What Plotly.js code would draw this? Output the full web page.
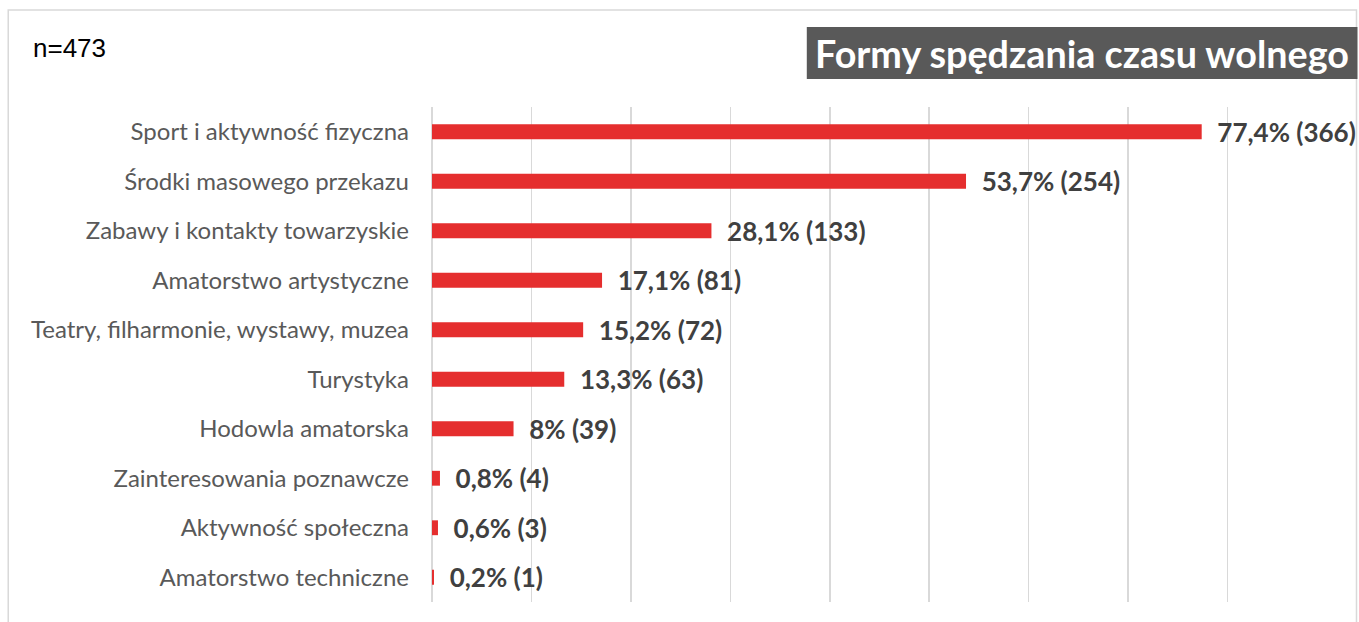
<!DOCTYPE html>
<html><head><meta charset="utf-8">
<script src="https://cdn.plot.ly/plotly-3.0.1.min.js"></script>
<style>html,body{margin:0;padding:0;background:#fff}#chart{width:1359px;height:622px}</style>
</head><body><div id="chart"></div>
<script>
const categories = ["Sport i aktywność fizyczna","Środki masowego przekazu","Zabawy i kontakty towarzyskie","Amatorstwo artystyczne","Teatry, filharmonie, wystawy, muzea","Turystyka","Hodowla amatorska","Zainteresowania poznawcze","Aktywność społeczna","Amatorstwo techniczne"];
const percents = [77.4, 53.7, 28.1, 17.1, 15.2, 13.3, 8.2, 0.8, 0.6, 0.2];
const counts = [366, 254, 133, 81, 72, 63, 39, 4, 3, 1];
const percentLabels = ["77,4%","53,7%","28,1%","17,1%","15,2%","13,3%","8%","0,8%","0,6%","0,2%"];
const sampleLabel = "n=473";
const chartTitle = "Formy spędzania czasu wolnego";

const labels = percentLabels.map((p,i)=>"\u00a0\u00a0"+p+" ("+counts[i]+")");

const trace = {
  type:'bar', orientation:'h',
  y: categories, x: percents,
  text: labels, textposition:'outside', cliponaxis:false, constraintext:'none',
  textfont:{family:'Lato', size:26, color:'#404040', weight:700},
  marker:{color:'#E52E2E'},
  width:0.3, hoverinfo:'skip'
};

const layout = {
  width:1359, height:622,
  margin:{l:432, r:31.5, t:107, b:20},
  paper_bgcolor:'#fff', plot_bgcolor:'#fff',
  showlegend:false,
  xaxis:{range:[0,90], dtick:10, tick0:0, showgrid:true, gridcolor:'#d9d9d9', gridwidth:1.5,
         zeroline:true, zerolinecolor:'#d9d9d9', zerolinewidth:1.5, showticklabels:false, fixedrange:true},
  yaxis:{autorange:'reversed', showgrid:false, zeroline:false, ticks:'', ticklabelstandoff:22,
         tickfont:{family:'Lato', size:24, color:'#595959'}, fixedrange:true},
  shapes:[
    {type:'rect', xref:'paper', yref:'paper', x0:(8-432)/895.5, x1:(1357-432)/895.5, y0:-0.2, y1:(602-10)/495,
     line:{color:'#d9d9d9', width:1.5}, fillcolor:'rgba(0,0,0,0)', layer:'below'},
    {type:'rect', xref:'paper', yref:'paper', x0:(807-432)/895.5, x1:(1358-432)/895.5, y0:(602-79)/495, y1:(602-27)/495,
     line:{width:0}, fillcolor:'#595959', layer:'above'}
  ],
  annotations:[
    {text:chartTitle, xref:'paper', yref:'paper', x:(1082-432)/895.5, y:(602-54)/495, xanchor:'center', yanchor:'middle',
     showarrow:false, font:{family:'Lato', size:37.7, color:'#ffffff', weight:700}},
    {text:sampleLabel, xref:'paper', yref:'paper', x:(31-432)/895.5, y:(602-48)/495, xanchor:'left', yanchor:'middle',
     showarrow:false, font:{family:'Liberation Sans, Arial', size:26, color:'#000000'}}
  ]
};
Plotly.newPlot('chart',[trace],layout,{displayModeBar:false, staticPlot:true});
</script></body></html>
